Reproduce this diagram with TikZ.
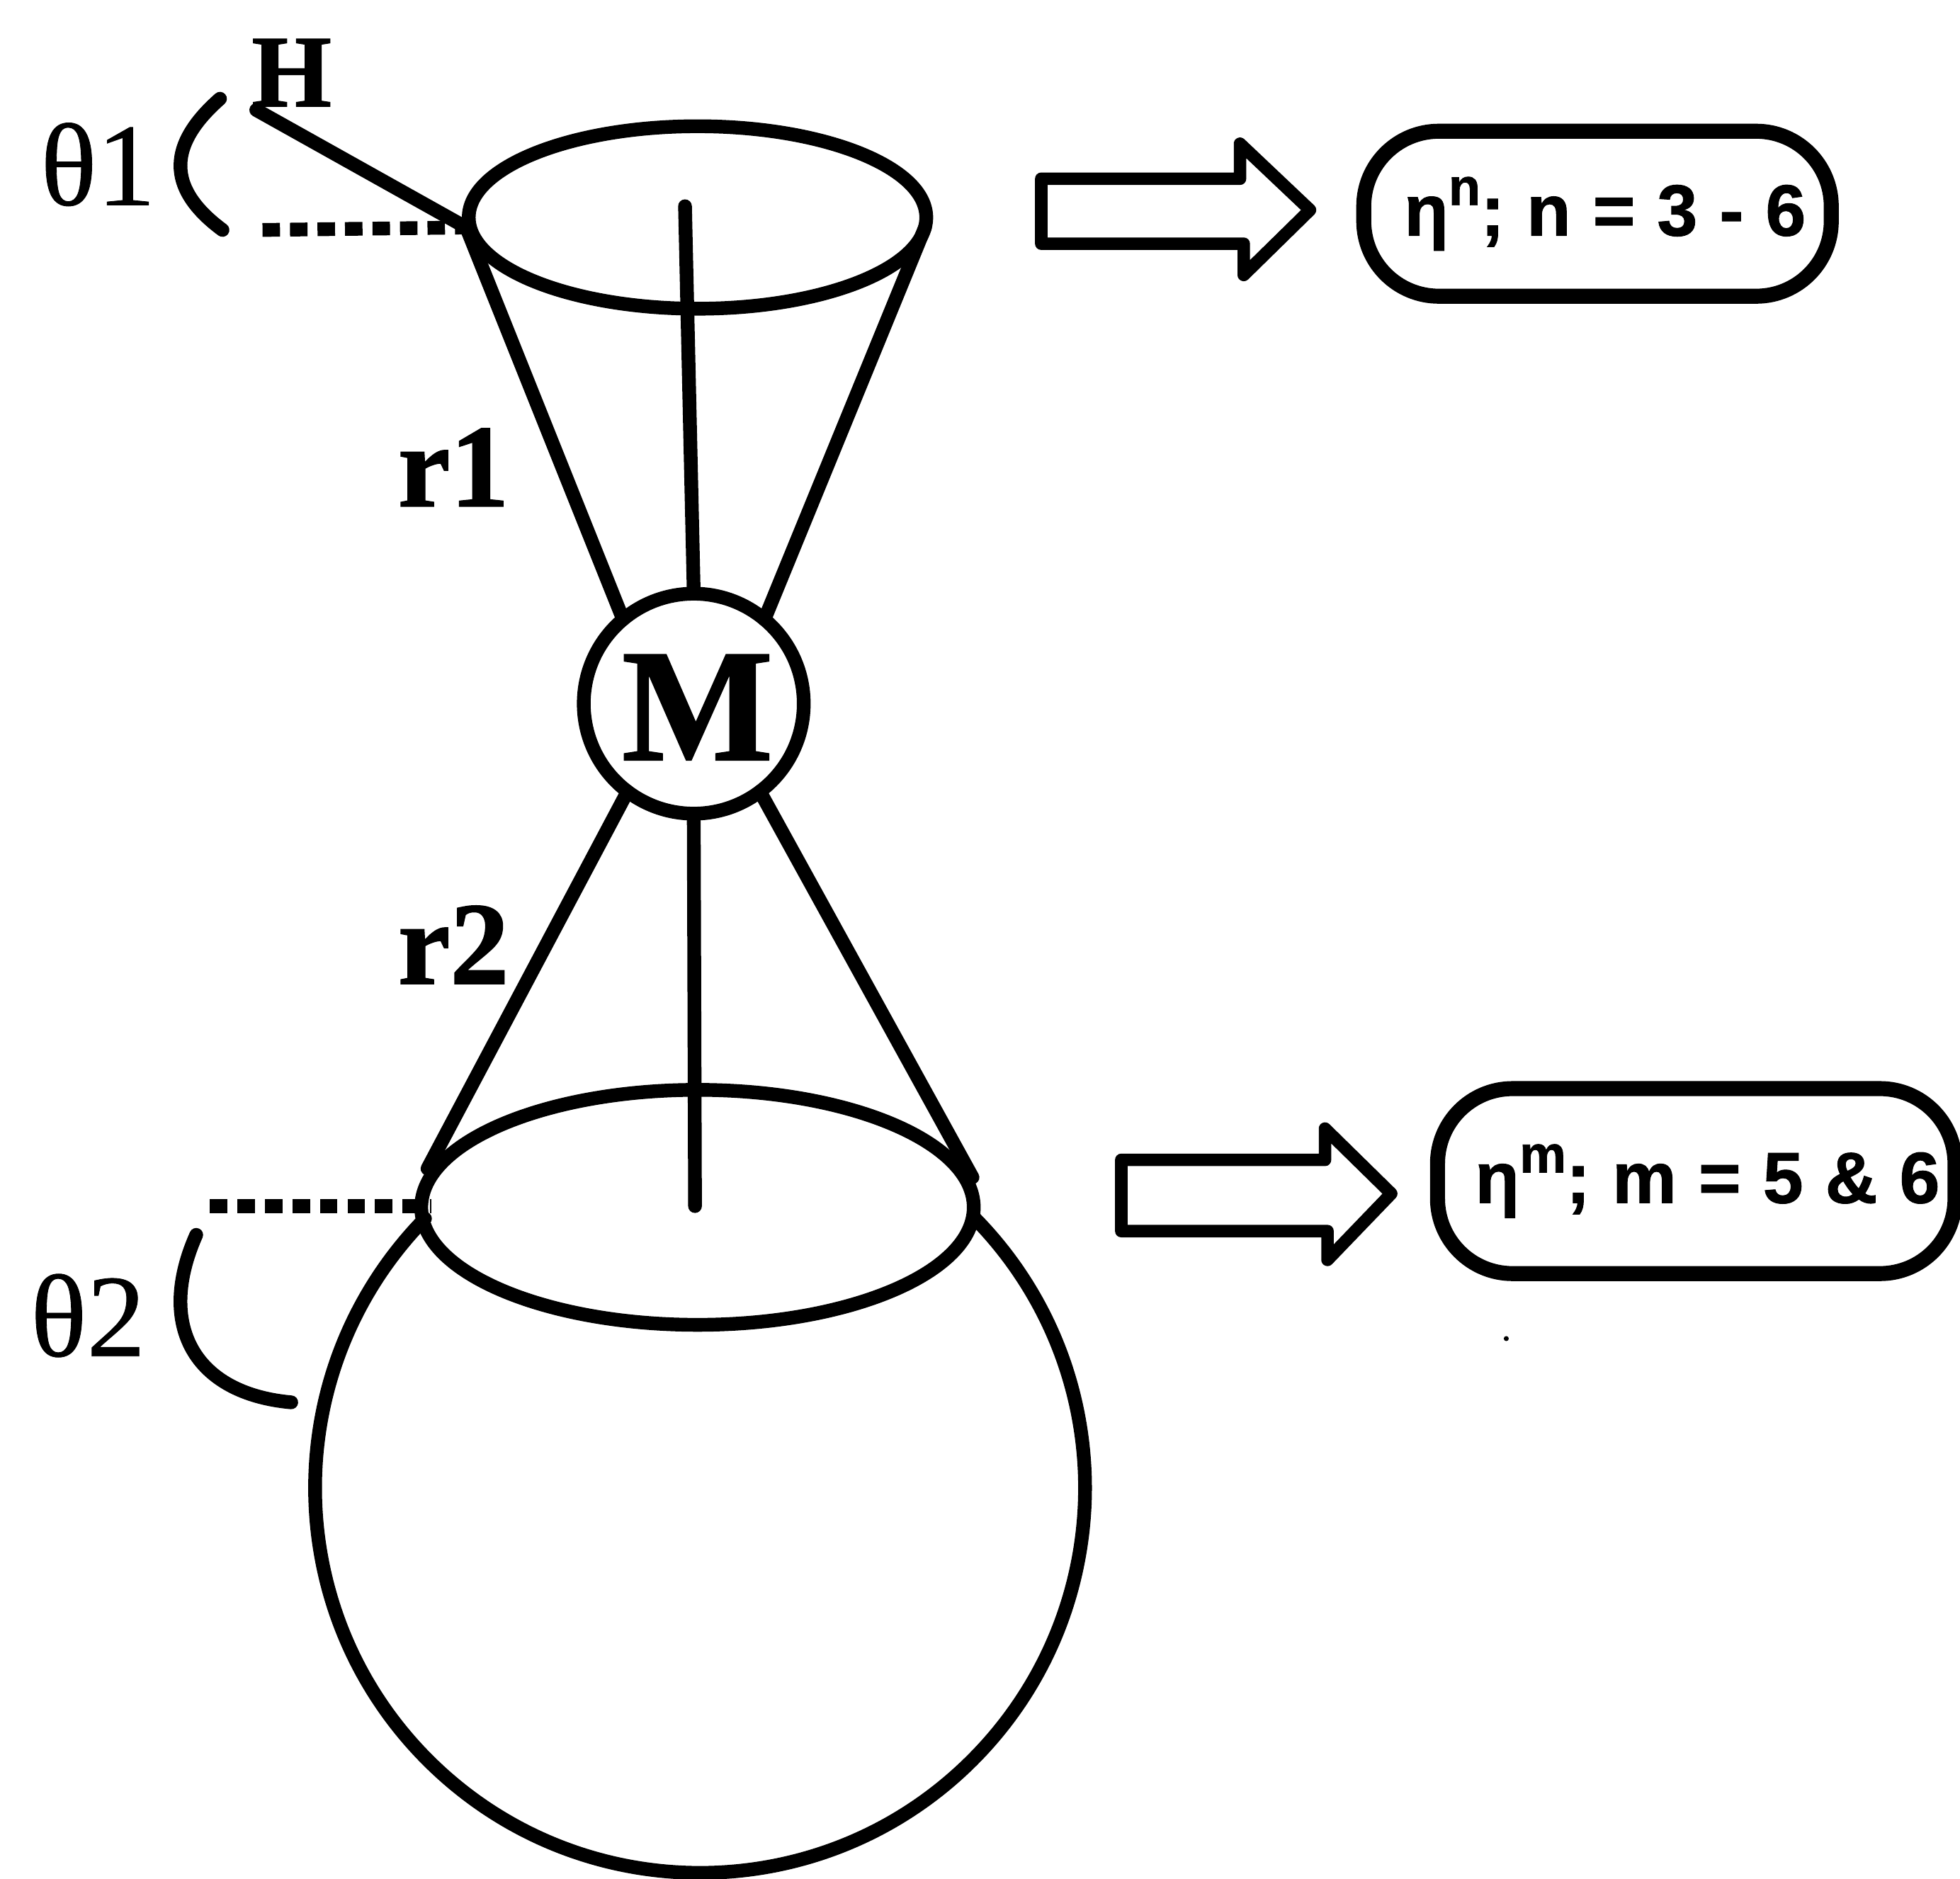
\documentclass[tikz,border=0pt]{standalone}
\usepackage{fontspec}
\usetikzlibrary{shapes.geometric}
\setmainfont{Liberation Serif}[FakeBold=0.5,BoldFeatures={FakeBold=1.2}]
\setsansfont{Liberation Sans}[LetterSpace=2.5,BoldFeatures={FakeBold=1}]
\begin{document}
\begin{tikzpicture}[x=0.5pt,y=-0.5pt,
  ln/.style={line width=5.5pt,black,line cap=round,line join=round},
  ringnode/.style={draw,line width=5.5pt,ellipse,inner sep=0pt,outer sep=0pt},
  dots/.style={line width=5.5pt,black,dash pattern=on 7pt off 4pt},
  blockarrow/.style={line width=5pt,black,line join=round,fill=white},
  lbl/.style={font=\fontsize{47}{47}\selectfont\bfseries,inner sep=0pt},
  greek/.style={font=\fontsize{47}{47}\selectfont,inner sep=0pt},
  tagbox/.style={draw,line width=6pt,rounded corners=30pt,fill=white,inner sep=0pt,font=\sffamily\bfseries\fontsize{29}{29}\selectfont}]
\useasboundingbox (0,0) rectangle (1568,1503);
% named anchor points
\coordinate (H0) at (205,88);
\coordinate (TL) at (373,182);
\coordinate (TR) at (740,182);
\coordinate (TC) at (548,165);
\coordinate (BL) at (342,935);
\coordinate (BR) at (778,942);
\coordinate (BC) at (556,965);
\coordinate (dA) at (210,184);
\coordinate (dB) at (168,965);
\coordinate (dC) at (345,965);
\coordinate (SL) at (340,975);
% sphere
\draw[ln] (SL) arc[start angle=224.4,end angle=-44.4,radius=308];
% cones and axes
\node[ringnode,minimum width=183pt,minimum height=73pt] (topring) at (558,174) {};
\node[ringnode,minimum width=221pt,minimum height=94pt] (botring) at (558,966) {};
\node[draw,circle,line width=5.5pt,fill=white,minimum size=88pt,inner sep=0pt,outer sep=0pt] (M) at (555,563) {};
\draw[ln] (TL) -- (M.130);
\draw[ln] (TR) -- (M.50);
\draw[ln] (TC) -- (M.90);
\draw[ln] (BL) -- (M.233);
\draw[ln] (BR) -- (M.-53);
\draw[ln] (BC) -- (M.-90);
\draw[ln] (H0) -- (TL);
\draw[dots] (dA) -- (TL);
\draw[dots] (dB) -- (dC);
% angle arcs
\draw[ln] (176,79) .. controls (135,115) and (132,150) .. (178,184);
\draw[ln] (157,988) .. controls (125,1060) and (155,1115) .. (233,1122);
% labels
\node[greek,anchor=base west] (t1) at (32,164) {θ1};
\node[greek,anchor=base west] (t2) at (24,1085) {θ2};
\node[anchor=base west,inner sep=0pt,font=\fontsize{41}{41}\selectfont\bfseries] (Hlbl) at (201,85) {H};
\node[lbl,anchor=base west] (r1lbl) at (318,405) {r1};
\node[lbl,anchor=base west] (r2lbl) at (318,787) {r2};
\node[font=\fontsize{64}{64}\selectfont\bfseries,inner sep=0pt] (Mlbl) at (558,566) {M};
% block arrows
\draw[blockarrow] (833,143) -- (992,143) -- (992,115) -- (1048,168) -- (995,220) -- (995,195) -- (833,195) -- cycle;
\draw[blockarrow] (897,928) -- (1060,928) -- (1060,903) -- (1113,955) -- (1062,1008) -- (1062,985) -- (897,985) -- cycle;
% tag boxes
\node[tagbox,minimum width=187pt,minimum height=66pt] (tagA) at (1278,171)
  {\hspace*{6pt}\raisebox{-1.5pt}{η\raisebox{.42em}{\fontsize{21}{21}\selectfont n}; n = 3 - 6}};
\node[tagbox,minimum width=207pt,minimum height=74pt] (tagB) at (1357,945)
  {\hspace*{9pt}η\raisebox{.42em}{\fontsize{21}{21}\selectfont m}; m = 5 \& 6};
\fill (1205,1071) circle (1pt);
\end{tikzpicture}
\end{document}
